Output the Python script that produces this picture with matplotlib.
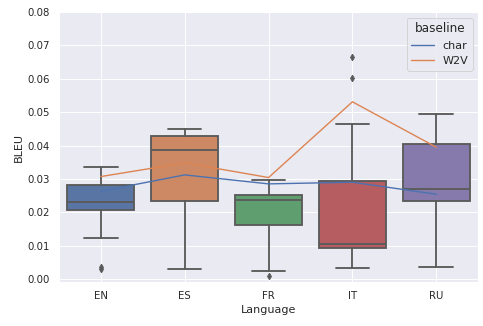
import matplotlib
matplotlib.use("Agg")
from matplotlib import pyplot as plt
import seaborn as sns

languages = ["EN", "ES", "FR", "IT", "RU"]

# box summaries of BLEU per language
whislo = [0.0123, 0.0031, 0.0025, 0.0034, 0.0037]
q1 = [0.0206, 0.0234, 0.0161, 0.0093, 0.0234]
med = [0.0231, 0.0386, 0.0236, 0.0105, 0.0270]
q3 = [0.0281, 0.0430, 0.0252, 0.0293, 0.0406]
whishi = [0.0335, 0.0449, 0.0296, 0.0464, 0.0493]
fliers = [[0.0030, 0.0035], [], [0.0010], [0.0601, 0.0665], []]

# baseline systems
char_bleu = [0.0263, 0.0312, 0.0285, 0.0290, 0.0254]
w2v_bleu = [0.0307, 0.0348, 0.0304, 0.0531, 0.0395]

sns.set_theme(style="darkgrid")
palette = sns.color_palette("deep", 5, desat=0.75)
gray = "#5a5a5a"

fig = plt.figure(figsize=(7.245, 4.89), dpi=66.67)
ax = fig.add_axes([0.122, 0.135, 0.868, 0.828])

stats = []
for i, lang in enumerate(languages):
    stats.append(dict(label=lang, whislo=whislo[i], q1=q1[i], med=med[i],
                      q3=q3[i], whishi=whishi[i], fliers=fliers[i]))

bp = ax.bxp(stats, positions=range(len(languages)), widths=0.8, capwidths=0.4,
            patch_artist=True, manage_ticks=False,
            boxprops=dict(edgecolor=gray, linewidth=2),
            medianprops=dict(color=gray, linewidth=2),
            whiskerprops=dict(color=gray, linewidth=2),
            capprops=dict(color=gray, linewidth=2),
            flierprops=dict(marker="d", markerfacecolor=gray, markeredgecolor=gray,
                            markersize=5, linestyle="none"))
for patch, c in zip(bp["boxes"], palette):
    patch.set_facecolor(c)

x = list(range(len(languages)))
ax.plot(x, char_bleu, color="#4c72b0", lw=1.5, label="char", zorder=5)
ax.plot(x, w2v_bleu, color="#dd8452", lw=1.5, label="W2V", zorder=5)

ax.set_xticks(x)
ax.set_xticklabels(languages)
ax.set_xlim(-0.5, 4.5)
ax.set_ylim(-0.0009, 0.08)
ax.set_yticks([i / 100 for i in range(9)])
ax.yaxis.set_major_formatter(matplotlib.ticker.FormatStrFormatter("%.2f"))
ax.tick_params(labelsize=11)
ax.set_xlabel("Language", fontsize=12)
ax.set_ylabel("BLEU", fontsize=12)
ax.legend(title="baseline", loc="upper right", fontsize=12, title_fontsize=13)

fig.savefig("out.png", dpi=66.67)
